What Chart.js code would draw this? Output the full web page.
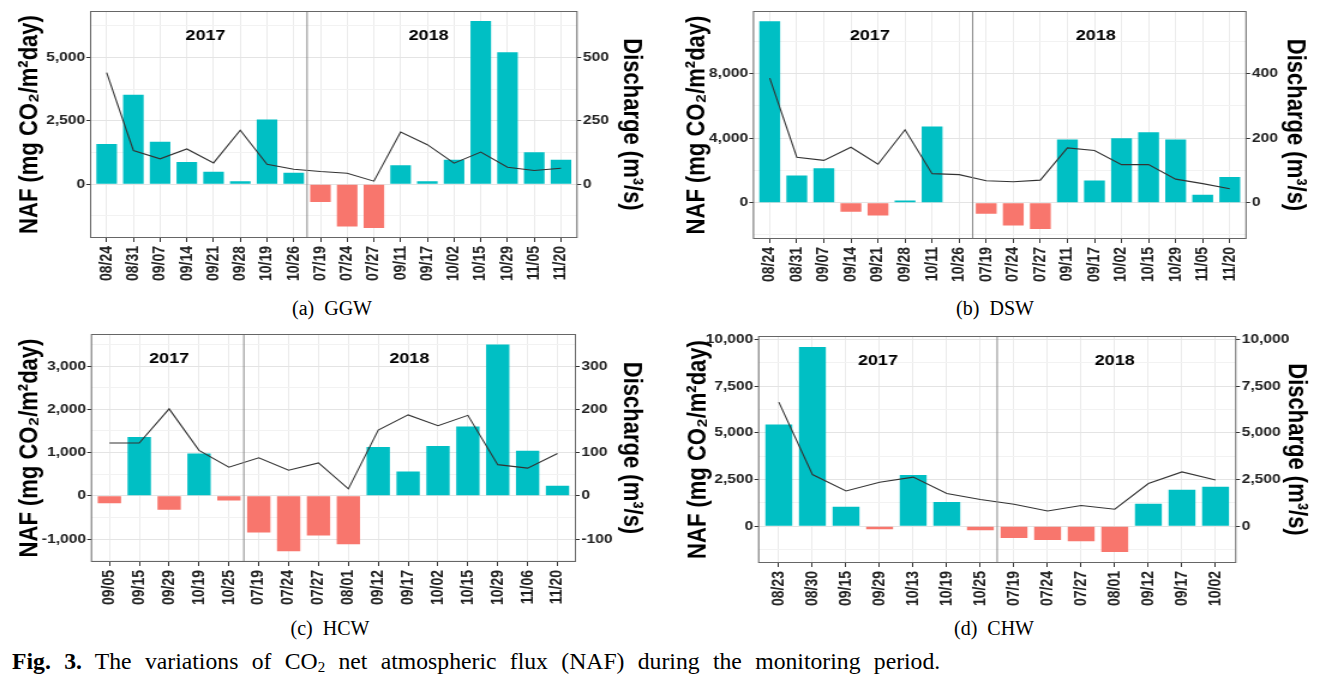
<!DOCTYPE html>
<html>
<head>
<meta charset="utf-8">
<script src="https://cdn.jsdelivr.net/npm/chart.js@4.4.1/dist/chart.umd.min.js"></script>
<style>
  body { margin: 0; background: #fff; width: 1326px; height: 680px; position: relative; overflow: hidden; }
  /* the source figure is stretched sideways, so each panel is too */
  .wrap { position: absolute; transform: scaleX(1.2); transform-origin: 0 0; }
  .cap { position: absolute; font-family: 'Liberation Serif', serif; font-size: 20px; white-space: pre; transform: translateX(-50%); color: #000; }
  #fig { position: absolute; left: 12px; top: 648px; font-family: 'Liberation Serif', serif; font-size: 23.7px;
         word-spacing: 7.4px; color: #000; white-space: nowrap; }
  #fig sub { font-size: 15px; vertical-align: -3px; line-height: 0; }
</style>
</head>
<body>
<div class="wrap" style="left:0;top:0"><canvas id="ggw" width="540" height="292"></canvas></div>
<div class="wrap" style="left:672px;top:0"><canvas id="dsw" width="540" height="292"></canvas></div>
<div class="wrap" style="left:0;top:322px"><canvas id="hcw" width="540" height="292"></canvas></div>
<div class="wrap" style="left:672px;top:322px"><canvas id="chw" width="540" height="292"></canvas></div>
<div class="cap" style="left:332px;top:297px">(a)  GGW</div>
<div class="cap" style="left:995px;top:297px">(b)  DSW</div>
<div class="cap" style="left:330px;top:617px">(c)  HCW</div>
<div class="cap" style="left:994px;top:617px">(d)  CHW</div>
<div id="fig"><b>Fig. 3.</b> The variations of CO<sub>2</sub> net atmospheric flux (NAF) during the monitoring period.</div>
<script>
// values
const years = ['2017', '2018'];

const ggwDates = ['08/24','08/31','09/07','09/14','09/21','09/28','10/19','10/26','07/19','07/24','07/27','09/11','09/17','10/02','10/15','10/29','11/05','11/20'];
const ggwNaf = [1590, 3530, 1670, 880, 490, 120, 2550, 450, -700, -1670, -1730, 750, 120, 970, 6440, 5200, 1260, 970];
const ggwDischarge = [440, 133, 100, 139, 84, 213, 79, 59, 50, 43, 12, 206, 156, 83, 127, 67, 54, 63];
const ggwNafTicks = [0, 2500, 5000];
const ggwQTicks = [0, 250, 500];

const dswDates = ['08/24','08/31','09/07','09/14','09/21','09/28','10/11','10/26','07/19','07/24','07/27','09/11','09/17','10/02','10/15','10/29','11/05','11/20'];
const dswNaf = [11240, 1690, 2140, -560, -800, 140, 4720, -40, -680, -1420, -1630, 3920, 1380, 4000, 4370, 3920, 500, 1590];
const dswDischarge = [386, 141, 131, 172, 119, 226, 90, 87, 68, 65, 70, 170, 162, 118, 118, 73, 59, 43];
const dswNafTicks = [0, 4000, 8000];
const dswQTicks = [0, 200, 400];

const hcwDates = ['09/05','09/15','09/29','10/19','10/25','07/19','07/24','07/27','08/01','09/12','09/17','10/02','10/15','10/29','11/06','11/20'];
const hcwNaf = [-170, 1360, -320, 980, -110, -850, -1280, -920, -1120, 1130, 560, 1150, 1600, 3500, 1040, 230];
const hcwDischarge = [122, 122, 201, 105, 66, 88, 59, 76, 16, 152, 187, 162, 186, 72, 64, 98];
const hcwNafTicks = [-1000, 0, 1000, 2000, 3000];
const hcwQTicks = [-100, 0, 100, 200, 300];

const chwDates = ['08/23','08/30','09/15','09/29','10/13','10/19','10/25','07/19','07/24','07/27','08/01','09/12','09/17','10/02'];
const chwNaf = [5450, 9590, 1050, -160, 2750, 1300, -210, -620, -730, -800, -1370, 1210, 1960, 2110];
const chwDischarge = [6640, 2770, 1890, 2360, 2630, 1750, 1430, 1180, 820, 1110, 910, 2290, 2910, 2480];
const chwNafTicks = [0, 2500, 5000, 7500, 10000];
const chwQTicks = [0, 2500, 5000, 7500, 10000];

const TEAL = '#00BFC4';
const SALMON = '#F8766D';
const FAMILY = "'Liberation Sans', Arial, sans-serif";

// major ticks plus the ggplot-style minor lines halfway between
function withMinors(majors, min, max) {
    const half = (majors[1] - majors[0]) / 2;
    const out = [];
    let v = majors[0];
    while (v - half >= min) v -= half;
    for (; v <= max; v += half) out.push(v);
    return out;
}

function panel(id, o) {
    const n = o.dates.length;
    const leftTicks = withMinors(o.nafTicks, o.nafMin, o.nafMax);
    const isMajor = v => o.nafTicks.includes(v);
    const tickFont = { family: FAMILY, size: 13, weight: 'bold' };
    const titleFont = { family: FAMILY, size: 22, weight: 'bold' };

    const deco = {
        id: 'deco',
        afterDatasetsDraw(chart) {
            const { ctx, chartArea: a, scales: { x } } = chart;
            ctx.save();
            // year split
            const sx = x.getPixelForValue(o.split);
            ctx.strokeStyle = '#8a8a8a';
            ctx.lineWidth = 1;
            ctx.beginPath();
            ctx.moveTo(sx, a.top);
            ctx.lineTo(sx, a.bottom);
            ctx.stroke();
            // year labels
            ctx.fillStyle = '#000';
            ctx.font = 'bold 15px ' + FAMILY;
            ctx.textAlign = 'center';
            ctx.textBaseline = 'middle';
            years.forEach((y, i) => ctx.fillText(y, x.getPixelForValue(o.yearAt[i]), a.top + 25));
            // panel border
            ctx.strokeStyle = '#666';
            ctx.strokeRect(a.left, a.top + 0.5, a.width, a.height - 1);
            ctx.restore();
        }
    };

    return new Chart(document.getElementById(id), {
        data: {
            labels: o.dates,
            datasets: [
                {
                    type: 'line',
                    data: o.discharge,
                    yAxisID: 'y2',
                    borderColor: '#333',
                    borderWidth: 1.1,
                    pointRadius: 0,
                    tension: 0,
                    order: 0
                },
                {
                    type: 'bar',
                    data: o.naf,
                    yAxisID: 'y',
                    backgroundColor: o.naf.map(v => v >= 0 ? TEAL : SALMON),
                    barPercentage: o.barPct,
                    categoryPercentage: 1,
                    order: 1
                }
            ]
        },
        options: {
            responsive: false,
            animation: false,
            layout: { padding: { top: o.top, left: 0, right: 0, bottom: 0 } },
            plugins: { legend: { display: false }, tooltip: { enabled: false } },
            scales: {
                x: {
                    type: 'category',
                    offset: true,
                    grid: { offset: false, color: '#ebebeb', tickColor: '#333', tickLength: 4 },
                    border: { display: false },
                    ticks: {
                        autoSkip: false, minRotation: 90, maxRotation: 90, padding: 4,
                        color: '#222', font: { family: FAMILY, size: 14, weight: 'bold' }
                    },
                    // ggplot pads a discrete axis by 0.6 of a step on each side
                    afterBuildTicks: s => { s._startValue = -0.6; s._valueRange = n + 0.2; },
                    afterFit: s => { s.height = o.xH; }
                },
                y: {
                    position: 'left',
                    min: o.nafMin,
                    max: o.nafMax,
                    afterBuildTicks: s => { s.ticks = leftTicks.map(v => ({ value: v })); },
                    grid: {
                        color: c => isMajor(c.tick.value) ? '#e4e4e4' : '#f2f2f2',
                        tickColor: c => isMajor(c.tick.value) ? '#333' : 'rgba(0,0,0,0)',
                        tickLength: 3.5
                    },
                    border: { display: false },
                    ticks: {
                        autoSkip: false, padding: 1, color: '#222', font: tickFont,
                        callback: v => isMajor(v) ? v.toLocaleString('en-US') : ''
                    },
                    title: {
                        display: true, text: 'NAF (mg CO₂/m²day)', color: '#000', font: titleFont,
                        padding: { top: o.lt, bottom: 0 }
                    },
                    afterFit: s => { s.width = o.lw; }
                },
                y2: {
                    position: 'right',
                    min: o.nafMin / o.ratio,
                    max: o.nafMax / o.ratio,
                    afterBuildTicks: s => { s.ticks = o.qTicks.map(v => ({ value: v })); },
                    grid: { drawOnChartArea: false, tickColor: '#333', tickLength: 3.5 },
                    border: { display: false },
                    ticks: {
                        autoSkip: false, padding: 1.5, color: '#222', font: tickFont,
                        callback: v => v.toLocaleString('en-US')
                    },
                    title: {
                        display: true, text: 'Discharge (m³/s)', color: '#000', font: titleFont,
                        padding: { top: o.rt, bottom: 0 }
                    },
                    afterFit: s => { s.width = o.rw; }
                }
            }
        },
        plugins: [deco]
    });
}

panel('ggw', {
    dates: ggwDates, naf: ggwNaf, discharge: ggwDischarge,
    nafTicks: ggwNafTicks, qTicks: ggwQTicks,
    nafMin: -2120, nafMax: 6830, ratio: 10,
    split: 7.5, yearAt: [3.7, 12.05], barPct: 0.77,
    top: 11, lw: 75.5, rw: 59.2, xH: 54, lt: 11.8, rt: 1
});

panel('dsw', {
    dates: dswDates, naf: dswNaf, discharge: dswDischarge,
    nafTicks: dswNafTicks, qTicks: dswQTicks,
    nafMin: -2250, nafMax: 11880, ratio: 20,
    split: 7.5, yearAt: [3.7, 12.05], barPct: 0.77,
    top: 11, lw: 67.9, rw: 61.7, xH: 53, lt: 7.6, rt: 7.6
});

panel('hcw', {
    dates: hcwDates, naf: hcwNaf, discharge: hcwDischarge,
    nafTicks: hcwNafTicks, qTicks: hcwQTicks,
    nafMin: -1530, nafMax: 3740, ratio: 10,
    split: 4.5, yearAt: [2, 10.04], barPct: 0.78,
    top: 12, lw: 76.2, rw: 60.5, xH: 52, lt: 11.8, rt: 1
});

panel('chw', {
    dates: chwDates, naf: chwNaf, discharge: chwDischarge,
    nafTicks: chwNafTicks, qTicks: chwQTicks,
    nafMin: -1964, nafMax: 10180, ratio: 1,
    split: 6.5, yearAt: [2.95, 10], barPct: 0.8,
    top: 14, lw: 72.2, rw: 70.25, xH: 51, lt: 8.5, rt: 6.8
});
</script>
</body>
</html>
